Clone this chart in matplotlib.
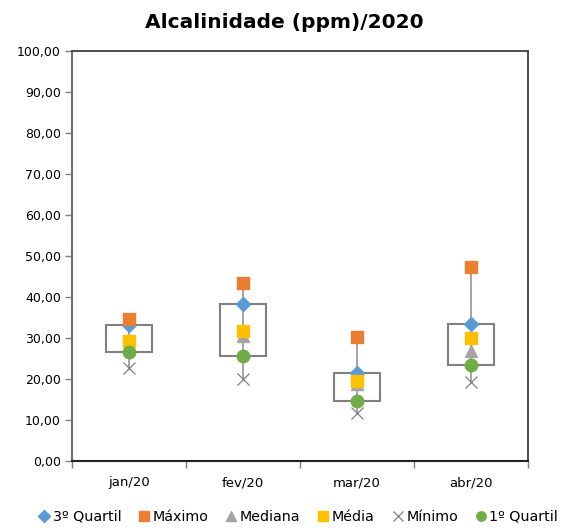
import numpy as np
import matplotlib
matplotlib.use('Agg')
import matplotlib.pyplot as plt

meses = ['jan/20', 'fev/20', 'mar/20', 'abr/20']
q3 = [33.1, 38.2, 21.5, 33.5]
maximo = [34.6, 43.5, 30.2, 47.4]
mediana = [29.6, 30.4, 18.8, 26.9]
media = [29.3, 31.6, 19.6, 30.1]
minimo = [22.8, 19.9, 11.7, 19.2]
q1 = [26.6, 25.5, 14.7, 23.5]

plt.rcParams['font.family'] = ['DejaVu Sans']

fig = plt.figure(figsize=(5.68, 5.28), dpi=100)
ax = fig.add_axes([72/568, 1-461/528, 456/568, 410/528])

x = np.arange(len(meses))
larg = 0.4
cinza = '#808080'

# whiskers and boxes
for i in x:
    ax.plot([i, i], [minimo[i], maximo[i]], color='#8c8c8c', lw=1.1, zorder=1)
    ax.add_patch(plt.Rectangle((i - larg/2, q1[i]), larg, q3[i] - q1[i],
                               fill=False, edgecolor=cinza, lw=1.5, zorder=2))

ax.plot(x, q3, ls='none', marker='D', ms=7.5, color='#5B9BD5', label='3º Quartil', zorder=3)
ax.plot(x, maximo, ls='none', marker='s', ms=9, color='#ED7D31', label='Máximo', zorder=4)
ax.plot(x, mediana, ls='none', marker='^', ms=9, color='#A5A5A5', label='Mediana', zorder=5)
ax.plot(x, media, ls='none', marker='s', ms=9, color='#FFC000', label='Média', zorder=6)
ax.plot(x, minimo, ls='none', marker='x', ms=9, mew=0.9, color=cinza, label='Mínimo', zorder=7)
ax.plot(x, q1, ls='none', marker='o', ms=9, color='#70AD47', label='1º Quartil', zorder=8)

ax.set_xlim(-0.5, len(meses) - 0.5)
ax.set_ylim(0, 100)
ax.set_yticks(np.arange(0, 101, 10))
ax.set_yticklabels([f'{v:.2f}'.replace('.', ',') for v in np.arange(0, 101, 10)], fontsize=9)
ax.set_xticks(x)
ax.set_xticklabels(meses, fontsize=9.5)
ax.set_xticks(np.arange(-0.5, len(meses), 1), minor=True)
ax.tick_params(axis='x', which='major', length=0, pad=11)
ax.tick_params(axis='x', which='minor', length=5, color=cinza, width=1)
ax.tick_params(axis='y', length=5, color=cinza, width=1, pad=3)

for s in ['left', 'bottom']:
    ax.spines[s].set_color('#222222')
    ax.spines[s].set_linewidth(1.5)
for s in ['top', 'right']:
    ax.spines[s].set_color('#404040')
    ax.spines[s].set_linewidth(1.3)
ax.spines['left'].set_color('#707070')

fig.suptitle('Alcalinidade (ppm)/2020', fontsize=14.5, fontweight='bold', x=0.5, y=1-22/528, va='center')

fig.legend(loc='center', bbox_to_anchor=(0.525, 1-517/528), ncol=6, frameon=False,
           fontsize=10.3, handlelength=0.8, handletextpad=0.2, columnspacing=1.2,
           markerscale=0.75, borderaxespad=0)

fig.savefig('out.png', dpi=100)
